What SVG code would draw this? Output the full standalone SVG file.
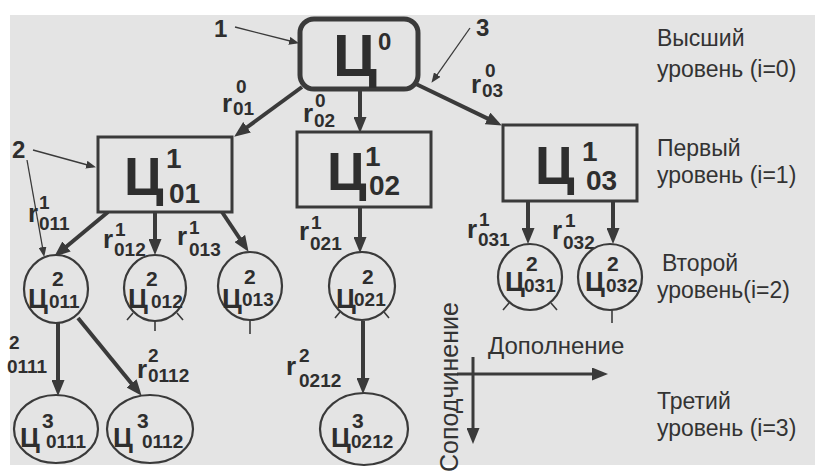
<svg xmlns="http://www.w3.org/2000/svg" width="815" height="476" viewBox="0 0 815 476">
<style>
.bg{fill:#e4e4e4}
.box{fill:#e4e4e4;stroke:#3a3a3a;stroke-width:3}
.node{fill:#e4e4e4;stroke:#3a3a3a;stroke-width:2.2}
.t{font-family:"Liberation Sans",Arial,sans-serif;fill:#2e2e2e;font-weight:bold}
.big{font-size:54px}
.c{font-size:27px}
.sup1{font-size:28px}
.sup2{font-size:21px}
.sub2{font-size:19px}
.r{font-size:26px}
.d{font-size:19px}
.lvl{font-family:"Liberation Sans",Arial,sans-serif;fill:#333;font-size:23px}
.ax{font-family:"Liberation Sans",Arial,sans-serif;fill:#333;font-size:24px}
.thick{stroke:#3a3a3a;stroke-width:4;fill:none;marker-end:url(#ah)}
.thin{stroke:#3a3a3a;stroke-width:1.3;fill:none;marker-end:url(#ahs)}
.tick{stroke:#3a3a3a;stroke-width:1.6;fill:none}
</style>
<defs>
<marker id="ah" markerUnits="userSpaceOnUse" markerWidth="16" markerHeight="13" refX="9" refY="6.5" orient="auto">
<path d="M0,0 L16,6.5 L0,13 z" fill="#3a3a3a"/>
</marker>
<marker id="ahs" markerUnits="userSpaceOnUse" markerWidth="10" markerHeight="8" refX="7" refY="4" orient="auto">
<path d="M0,0 L10,4 L0,8 z" fill="#3a3a3a"/>
</marker>
</defs>
<rect x="0" y="0" width="815" height="476" fill="#ffffff"/>
<rect class="bg" x="10" y="15" width="805" height="450"/>

<g id="connectors">
<line class="thick" x1="302" y1="87" x2="239.8" y2="132.5"/>
<line class="thick" x1="360" y1="90" x2="360" y2="126"/>
<line class="thick" x1="416" y1="84" x2="495.6" y2="122.4"/>
<line class="thick" x1="108" y1="212" x2="59.6" y2="252.2"/>
<line class="thick" x1="155" y1="212" x2="155" y2="248"/>
<line class="thick" x1="222" y1="212" x2="244.7" y2="246"/>
<line class="thick" x1="360" y1="207" x2="360" y2="246"/>
<line class="thick" x1="528" y1="201" x2="528" y2="237"/>
<line class="thick" x1="613" y1="201" x2="613" y2="237"/>
<line class="thick" x1="58" y1="323" x2="58" y2="389"/>
<line class="thick" x1="78" y1="318" x2="137.2" y2="390.4"/>
<line class="thick" x1="363" y1="321" x2="363" y2="387"/>
<line class="thin" x1="235" y1="27" x2="296.1" y2="42.5"/>
<line class="thin" x1="470" y1="28" x2="433.2" y2="80.4"/>
<line class="thin" x1="33" y1="150" x2="93.1" y2="166.5"/>
<line class="thin" x1="27" y1="160" x2="43.7" y2="254"/>
<line class="thick" style="stroke-width:3" x1="457" y1="374" x2="601" y2="374"/>
<line class="thick" style="stroke-width:3" x1="473" y1="357" x2="473" y2="437"/>
</g>

<g id="callouts">
<text class="t" style="font-size:24px" x="214" y="37">1</text>
<text class="t" style="font-size:24px" x="12" y="158">2</text>
<text class="t" style="font-size:24px" x="476" y="36">3</text>
</g>

<g id="edge-labels">
<text class="t r" x="222" y="112">r<tspan class="d" x="236" y="93">0</tspan><tspan class="d" x="233" y="115">01</tspan></text>
<text class="t r" x="303" y="122">r<tspan class="d" x="315" y="107">0</tspan><tspan class="d" x="314" y="127">02</tspan></text>
<text class="t r" x="471" y="93">r<tspan class="d" x="485" y="77">0</tspan><tspan class="d" x="482" y="97">03</tspan></text>
<text class="t r" x="28" y="222">r<tspan class="d" x="39" y="209">1</tspan><tspan class="d" x="39" y="230">011</tspan></text>
<text class="t r" x="103" y="248">r<tspan class="d" x="115" y="236">1</tspan><tspan class="d" x="114" y="256">012</tspan></text>
<text class="t r" x="177" y="245">r<tspan class="d" x="189" y="234">1</tspan><tspan class="d" x="189" y="256">013</tspan></text>
<text class="t r" x="299" y="240">r<tspan class="d" x="311" y="229">1</tspan><tspan class="d" x="310" y="250">021</tspan></text>
<text class="t r" x="467" y="238">r<tspan class="d" x="479" y="226">1</tspan><tspan class="d" x="478" y="246">031</tspan></text>
<text class="t r" x="552" y="239">r<tspan class="d" x="565" y="227">1</tspan><tspan class="d" x="563" y="249">032</tspan></text>
<text class="t d" x="9" y="349">2<tspan x="7" y="373">0111</tspan></text>
<text class="t r" x="137" y="378">r<tspan class="d" x="148" y="362">2</tspan><tspan class="d" x="148" y="382">0112</tspan></text>
<text class="t r" x="286" y="375">r<tspan class="d" x="299" y="362">2</tspan><tspan class="d" x="299" y="387">0212</tspan></text>
</g>

<g id="node-C0">
<rect x="300" y="19" width="118" height="70" rx="14" ry="14" fill="#e4e4e4" stroke="#3a3a3a" stroke-width="5"/>
<text class="t" style="font-size:60px" x="333" y="76">Ц<tspan style="font-size:24px" x="378" y="50">0</tspan></text>
</g>

<g id="node-C01">
<rect class="box" x="98" y="137" width="134" height="75"/>
<text class="t big" x="124" y="195">Ц<tspan class="sup1" x="166" y="168">1</tspan><tspan class="sup1" x="169" y="203">01</tspan></text>
</g>
<g id="node-C02">
<rect class="box" x="297" y="132" width="134" height="75"/>
<text class="t big" x="327" y="190">Ц<tspan class="sup1" x="365" y="166">1</tspan><tspan class="sup1" x="369" y="195">02</tspan></text>
</g>
<g id="node-C03">
<rect class="box" x="503" y="125" width="134" height="76"/>
<text class="t big" x="535" y="184">Ц<tspan class="sup1" x="582" y="161">1</tspan><tspan class="sup1" x="586" y="190">03</tspan></text>
</g>

<g id="node-C011">
<ellipse class="node" cx="56" cy="289" rx="32" ry="34"/>
<text class="t c" x="28" y="308">Ц<tspan class="sup2" x="52" y="286">2</tspan><tspan class="sub2" x="49" y="308">011</tspan></text>
</g>
<g id="node-C012">
<ellipse class="node" cx="155" cy="288" rx="31" ry="33"/>
<path class="tick" d="M133,313 L127,320 M155,321 L155,331 M177,313 L183,320"/>
<text class="t c" x="128" y="308">Ц<tspan class="sup2" x="146" y="286">2</tspan><tspan class="sub2" x="151" y="308">012</tspan></text>
</g>
<g id="node-C013">
<ellipse class="node" cx="250" cy="286" rx="32" ry="34"/>
<path class="tick" d="M250,320 L250,334"/>
<text class="t c" x="222" y="308">Ц<tspan class="sup2" x="244" y="284">2</tspan><tspan class="sub2" x="242" y="306">013</tspan></text>
</g>
<g id="node-C021">
<ellipse class="node" cx="362" cy="286" rx="33" ry="34"/>
<path class="tick" d="M340,312 L335,318 M384,312 L389,318"/>
<text class="t c" x="336" y="308">Ц<tspan class="sup2" x="362" y="284">2</tspan><tspan class="sub2" x="354" y="306">021</tspan></text>
</g>
<g id="node-C031">
<ellipse class="node" cx="530" cy="277" rx="32" ry="33"/>
<path class="tick" d="M509,303 L503,310 M551,303 L557,310"/>
<text class="t c" x="505" y="291">Ц<tspan class="sup2" x="526" y="271">2</tspan><tspan class="sub2" x="524" y="292">031</tspan></text>
</g>
<g id="node-C032">
<ellipse class="node" cx="610" cy="277" rx="32" ry="33"/>
<path class="tick" d="M612,310 L612,323"/>
<text class="t c" x="585" y="291">Ц<tspan class="sup2" x="607" y="271">2</tspan><tspan class="sub2" x="606" y="292">032</tspan></text>
</g>

<g id="node-C0111">
<ellipse class="node" cx="56" cy="429" rx="42" ry="34"/>
<text class="t c" x="20" y="447">Ц<tspan class="sup2" x="42" y="428">3</tspan><tspan class="sub2" x="46" y="448">0111</tspan></text>
</g>
<g id="node-C0112">
<ellipse class="node" cx="150" cy="429" rx="43" ry="34"/>
<text class="t c" x="113" y="447">Ц<tspan class="sup2" x="137" y="428">3</tspan><tspan class="sub2" x="142" y="448">0112</tspan></text>
</g>
<g id="node-C0212">
<ellipse class="node" cx="364" cy="429" rx="44" ry="36"/>
<text class="t c" x="331" y="447">Ц<tspan class="sup2" x="352" y="428">3</tspan><tspan class="sub2" x="351" y="448">0212</tspan></text>
</g>

<g id="levels">
<text class="lvl" x="657" y="46">Высший</text>
<text class="lvl" x="657" y="77">уровень (i=0)</text>
<text class="lvl" x="657" y="156">Первый</text>
<text class="lvl" x="657" y="183">уровень (i=1)</text>
<text class="lvl" x="662" y="271">Второй</text>
<text class="lvl" x="657" y="298">уровень(i=2)</text>
<text class="lvl" x="657" y="409">Третий</text>
<text class="lvl" x="657" y="436">уровень (i=3)</text>
</g>

<g id="axes-labels">
<text class="ax" x="488" y="354">Дополнение</text>
<text class="ax" style="font-size:25px" x="458" y="472" transform="rotate(-90 458 472)">Соподчинение</text>
</g>
</svg>
